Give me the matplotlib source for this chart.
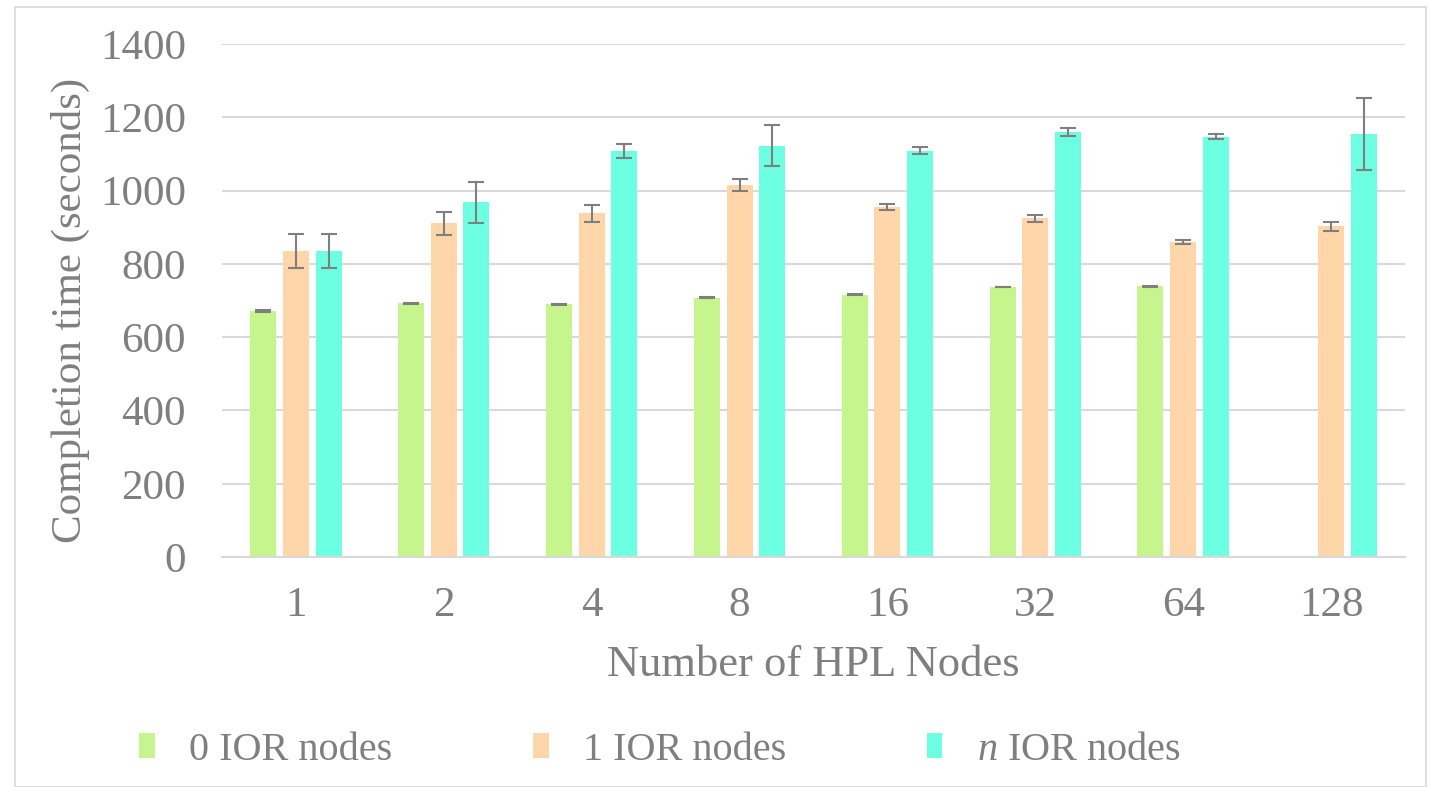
import numpy as np
import matplotlib
matplotlib.use('Agg')
import matplotlib.pyplot as plt
from matplotlib.patches import Patch, Rectangle

plt.rcParams['font.family'] = ['Liberation Serif', 'DejaVu Serif']
plt.rcParams['mathtext.fontset'] = 'custom'
plt.rcParams['mathtext.rm'] = 'Liberation Serif'
plt.rcParams['mathtext.it'] = 'Liberation Serif:italic'

# Данные
nodes = ['1', '2', '4', '8', '16', '32', '64', '128']
ior0 = [671, 692, 690, 708, 716, 737, 739, np.nan]
ior0_err = [3, 2, 1, 2, 1, 1, 1.5, np.nan]
ior1 = [836, 911, 938, 1016, 955, 924, 860, 903]
ior1_err = [47, 32, 23, 16, 9, 9, 5, 12]
iorn = [836, 968, 1109, 1123, 1109, 1160, 1147, 1154]
iorn_err = [47, 56, 19, 57, 10, 11, 7, 99]

labels = ['0 IOR nodes', '1 IOR nodes', r'$\mathit{n}$ IOR nodes']
colors = ['#c6f58d', '#ffd6aa', '#6cffe1']
gray = '#7f7f7f'

fig = plt.figure(figsize=(14.3, 7.87), dpi=100)
ax = fig.add_axes([0.1552, 0.2922, 0.8273, 0.6518])

x = np.arange(len(nodes))
w = 0.176
step = 0.221
series = [(ior0, ior0_err), (ior1, ior1_err), (iorn, iorn_err)]
for k, (vals, errs) in enumerate(series):
    pos = x + (k - 1) * step
    ax.bar(pos, vals, width=w, color=colors[k], zorder=2)
    ax.errorbar(pos, vals, yerr=errs, fmt='none', ecolor=gray,
                elinewidth=1.5, capsize=6, capthick=1.5, zorder=3)

ax.set_xlim(-0.5, len(nodes) - 0.5)
ax.set_ylim(0, 1400)
ax.set_yticks(range(0, 1401, 200))
ax.set_xticks(x)
ax.set_xticklabels(nodes)
ax.yaxis.grid(True, color='#d9d9d9', linewidth=1.5, zorder=0)
ax.set_axisbelow(True)
for s in ['top', 'right', 'left']:
    ax.spines[s].set_visible(False)
ax.spines['bottom'].set_color('#d9d9d9')
ax.spines['bottom'].set_linewidth(1.5)
ax.tick_params(axis='both', length=0, labelsize=31, labelcolor=gray)
ax.tick_params(axis='x', pad=21)
ax.tick_params(axis='y', pad=26)

fig.text(0.049, 0.605, 'Completion time (seconds)', rotation=90,
         ha='center', va='center', fontsize=31, color=gray)
fig.text(0.569, 0.155, 'Number of HPL Nodes', ha='center', va='center',
         fontsize=32, color=gray)

handles = [Patch(facecolor=c) for c in colors]
leg = fig.legend(handles, labels, loc='center', bbox_to_anchor=(0.4615, 0.047),
                 ncol=3, frameon=False, fontsize=29, handlelength=0.38,
                 handleheight=0.6, handletextpad=0.85, columnspacing=3.5)
for t in leg.get_texts():
    t.set_color(gray)

# рамка вокруг всего рисунка
fig.patches.append(Rectangle((0.0105, 0.0), 0.987, 0.991, transform=fig.transFigure,
                             fill=False, edgecolor='#d9d9d9', linewidth=1.2))

fig.savefig('out.png', dpi=100)
